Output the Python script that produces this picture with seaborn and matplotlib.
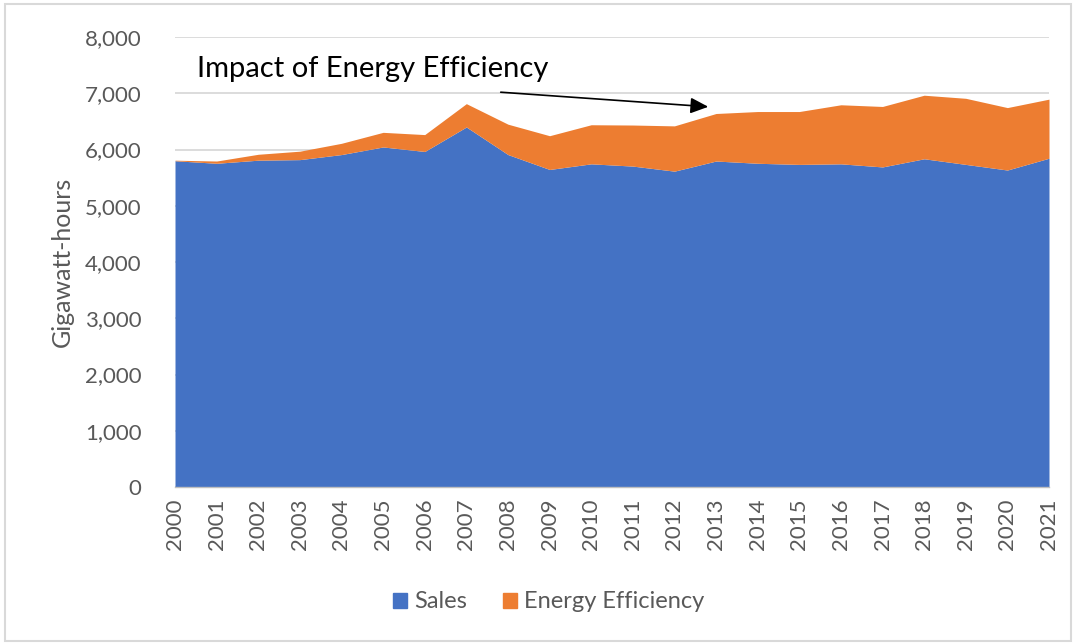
import matplotlib
matplotlib.use("Agg")
from matplotlib import pyplot as plt
from matplotlib.patches import Patch, Rectangle
from matplotlib.ticker import FuncFormatter
import pandas as pd
import seaborn as sns

years = list(range(2000, 2022))
sales = [5800, 5755, 5810, 5820, 5910, 6045, 5965, 6400, 5910, 5645,
         5745, 5705, 5615, 5795, 5755, 5735, 5745, 5690, 5835, 5735,
         5635, 5845]
total = [5810, 5795, 5915, 5970, 6110, 6305, 6265, 6815, 6450, 6245,
         6440, 6435, 6420, 6640, 6675, 6675, 6795, 6765, 6965, 6910,
         6745, 6895]
efficiency = [t - s for t, s in zip(total, sales)]

blue = "#4472C4"
orange = "#ED7D31"
grey_txt = "#595959"

df = pd.DataFrame({"Year": years, "Sales": sales, "Energy Efficiency": efficiency})

sns.set_theme(style="whitegrid")
plt.rcParams["font.family"] = ["Lato", "DejaVu Sans"]

fig = plt.figure(figsize=(10.76, 6.44), dpi=100)
ax = fig.add_axes([175 / 1076, 1 - 487 / 644, 874 / 1076, 450 / 644])

ax.stackplot(df["Year"], df["Sales"], df["Energy Efficiency"],
             colors=[blue, orange], linewidth=0)

ax.set_xlim(2000, 2021)
ax.set_ylim(0, 8000)
ax.set_yticks(range(0, 8001, 1000))
ax.yaxis.set_major_formatter(FuncFormatter(lambda v, p: f"{int(v):,}"))
ax.set_xticks(years)
ax.set_xticklabels([str(y) for y in years], rotation=90)
ax.tick_params(axis="both", labelsize=16, labelcolor=grey_txt)
ax.tick_params(axis="x", length=5, color="#bfbfbf", width=1, direction="out", pad=3)
ax.tick_params(axis="y", length=0, pad=24)
ax.grid(axis="y", color="#d9d9d9", linewidth=1.3)
ax.grid(axis="x", visible=False)
ax.set_axisbelow(True)
for side in ["left", "right", "top"]:
    ax.spines[side].set_visible(False)
ax.spines["bottom"].set_color("#bfbfbf")
ax.spines["bottom"].set_linewidth(1)
ax.set_facecolor("white")

ax.set_ylabel("Gigawatt-hours", fontsize=18, color=grey_txt, labelpad=8)
ax.set_xlabel("")

ax.annotate("", xy=(2012.88, 6756), xytext=(2007.76, 7022),
            arrowprops=dict(arrowstyle="-|>,head_length=0.9,head_width=0.4",
                            color="black", lw=1.2))
ax.text(2000.53, 7440, "Impact of Energy Efficiency", fontsize=21,
        color="black", va="center", ha="left")

handles = [Patch(color=blue, label="Sales"),
           Patch(color=orange, label="Energy Efficiency")]
fig.legend(handles=handles, loc="center", bbox_to_anchor=(0.51, 1 - 602 / 644),
           ncol=2, frameon=False, fontsize=17, handlelength=0.6, handleheight=0.6,
           handletextpad=0.3, columnspacing=1.5, labelcolor=grey_txt)

fig.patches.append(Rectangle((5 / 1076, 3 / 644), 1066 / 1076, 637 / 644,
                             transform=fig.transFigure, fill=False,
                             edgecolor="#d9d9d9", linewidth=1.5))

fig.savefig("out.png", dpi=100, facecolor="white")
